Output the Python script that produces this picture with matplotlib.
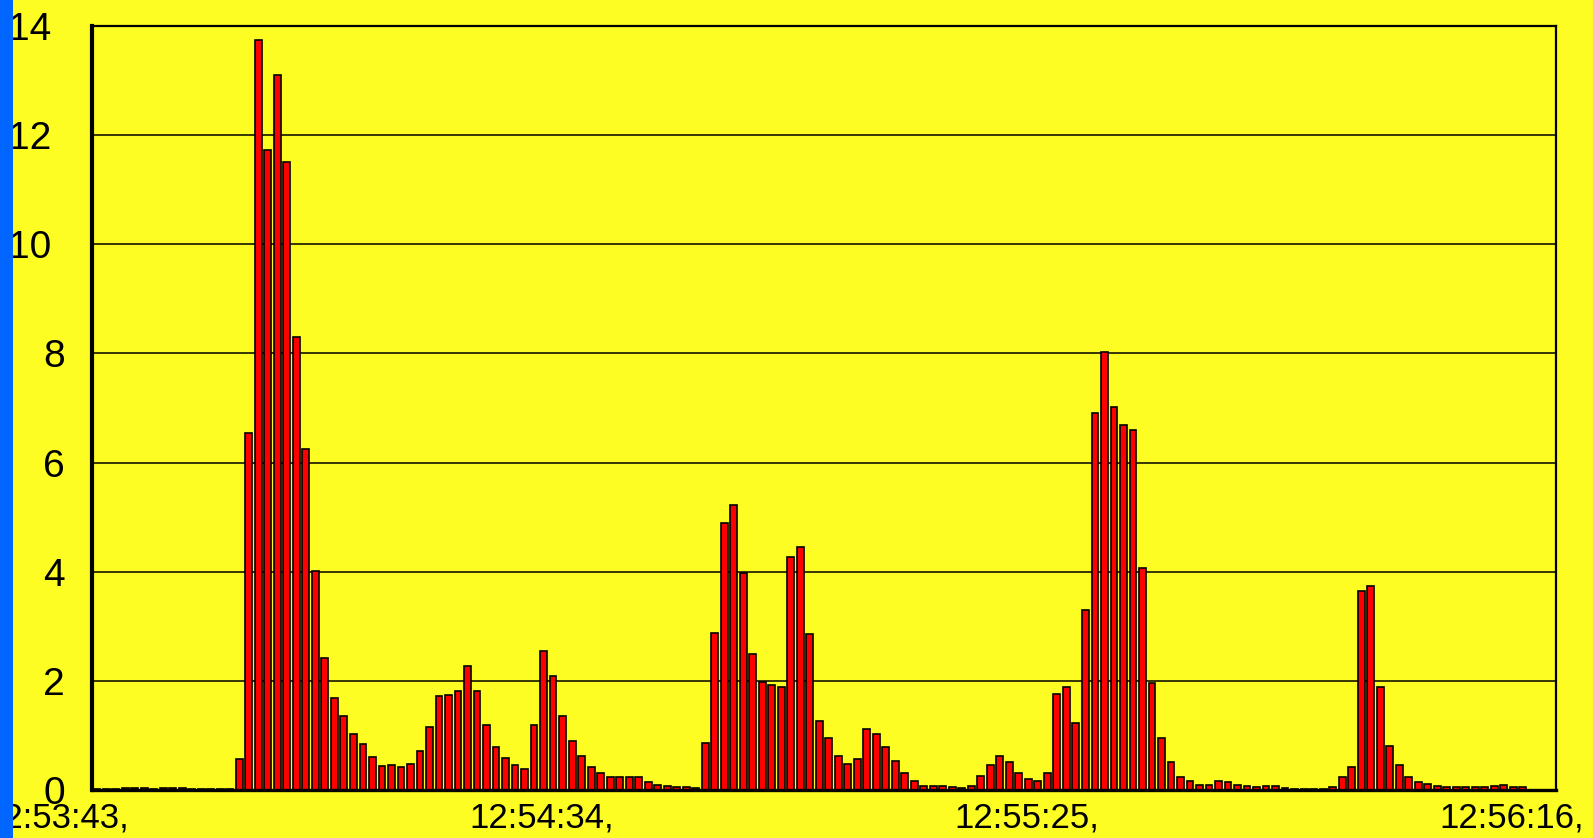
import matplotlib
matplotlib.use('Agg')
import matplotlib.pyplot as plt
import matplotlib.transforms as mtransforms
from matplotlib.patches import Rectangle
import numpy as np

# one bar per second, 12:53:43 .. 12:56:16
values = [
    0.01, 0.02, 0.02, 0.04, 0.04, 0.04, 0.02, 0.04, 0.04, 0.04,
    0.02, 0.01, 0.01, 0.01, 0.01, 0.57, 6.55, 13.74, 11.72, 13.11,
    11.50, 8.30, 6.25, 4.02, 2.42, 1.68, 1.35, 1.03, 0.84, 0.60,
    0.44, 0.45, 0.43, 0.48, 0.71, 1.16, 1.73, 1.75, 1.81, 2.28,
    1.81, 1.20, 0.78, 0.58, 0.45, 0.38, 1.19, 2.55, 2.09, 1.36,
    0.89, 0.62, 0.43, 0.31, 0.24, 0.23, 0.23, 0.23, 0.14, 0.09,
    0.07, 0.055, 0.055, 0.03, 0.86, 2.88, 4.89, 5.22, 3.97, 2.49,
    1.98, 1.93, 1.89, 4.27, 4.45, 2.86, 1.26, 0.95, 0.62, 0.48,
    0.56, 1.11, 1.03, 0.79, 0.53, 0.31, 0.16, 0.08, 0.08, 0.07,
    0.05, 0.04, 0.07, 0.25, 0.45, 0.62, 0.51, 0.31, 0.20, 0.17,
    0.31, 1.76, 1.88, 1.22, 3.30, 6.90, 8.03, 7.01, 6.69, 6.59,
    4.07, 1.96, 0.95, 0.51, 0.24, 0.17, 0.10, 0.10, 0.16, 0.15,
    0.10, 0.07, 0.055, 0.07, 0.07, 0.04, 0.02, 0.02, 0.01, 0.01,
    0.055, 0.23, 0.42, 3.65, 3.74, 1.89, 0.81, 0.45, 0.23, 0.14,
    0.11, 0.08, 0.055, 0.055, 0.055, 0.055, 0.055, 0.07, 0.085, 0.055,
    0.05, 0.0, 0.0, 0.0,
]
tick_idx = [0, 51, 102, 153]
tick_labels = ['12:53:43,', '12:54:34,', '12:55:25,', '12:56:16,']
y_ticks = [0, 2, 4, 6, 8, 10, 12, 14]

yellow = '#FDFD24'
plt.rcParams['font.family'] = ['Liberation Sans', 'DejaVu Sans']

fig = plt.figure(figsize=(15.93, 8.38), dpi=100, facecolor=yellow)
ax = fig.add_axes([92/1593, 48/838, 1464/1593, 764/838])
ax.set_facecolor(yellow)

x = np.arange(len(values))
ax.bar(x, values, width=0.72, color='#FF0000', edgecolor='black', linewidth=1.2, zorder=3)

ax.set_xlim(-0.5, len(values) - 0.5)
ax.set_ylim(0, 14)
ax.set_yticks(y_ticks)
ax.set_yticklabels([str(v) for v in y_ticks])
ax.set_xticks(tick_idx)
ax.set_xticklabels(tick_labels)
ax.yaxis.grid(True, color='black', linewidth=1.1, zorder=0)
ax.set_axisbelow(True)

ax.tick_params(axis='x', length=0, pad=8, labelsize=25)
ax.tick_params(axis='y', length=0, pad=29, labelsize=28)

# labels in the source sit left of their category
shift = mtransforms.ScaledTranslation(-0.40, 0, fig.dpi_scale_trans)
for lab in ax.get_xticklabels():
    lab.set_transform(lab.get_transform() + shift)
nudge = mtransforms.ScaledTranslation(0.13, 0, fig.dpi_scale_trans)
for lab in ax.get_yticklabels():
    if len(lab.get_text()) == 1:
        lab.set_transform(lab.get_transform() + nudge)

for side, lw in [('left', 3.0), ('bottom', 2.4), ('top', 1.6), ('right', 1.6)]:
    ax.spines[side].set_linewidth(lw)
    ax.spines[side].set_color('black')
    ax.spines[side].set_zorder(5)

# blue strip on the left edge, over the labels
fig.add_artist(Rectangle((0, 0), 13/1593, 1, transform=fig.transFigure,
                         facecolor='#0066FF', edgecolor='none', zorder=10))

fig.savefig('out.png', dpi=100, facecolor=yellow)
